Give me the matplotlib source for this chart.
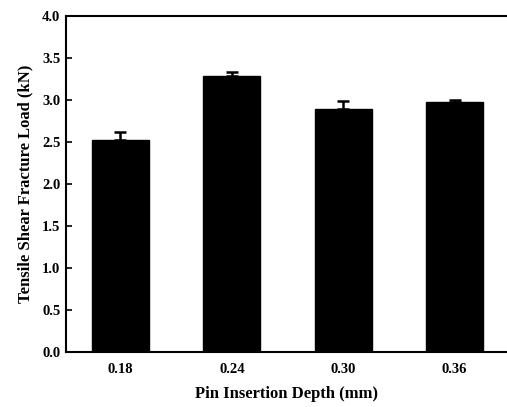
import matplotlib
matplotlib.use("Agg")
import matplotlib.pyplot as plt
import numpy as np

categories = ["0.18", "0.24", "0.30", "0.36"]
loads = [2.52, 3.29, 2.89, 2.97]
errors = [0.10, 0.04, 0.10, 0.03]
yticks = [0.0, 0.5, 1.0, 1.5, 2.0, 2.5, 3.0, 3.5, 4.0]

plt.rcParams['font.family'] = ['Liberation Serif', 'DejaVu Serif']
plt.rcParams['font.weight'] = 'bold'

fig = plt.figure(figsize=(5.07, 4.07), dpi=100)
ax = fig.add_axes([0.130, 0.135, 0.87, 0.826])

x = np.arange(len(categories))
ax.bar(x, loads, width=0.51, color='black', edgecolor='black',
       yerr=[np.zeros(len(errors)), errors], capsize=4,
       error_kw=dict(elinewidth=1.8, capthick=1.8, ecolor='black'))

ax.set_xlim(-0.49, 3.47)
ax.set_ylim(0, 4.0)
ax.set_xticks(x)
ax.set_xticklabels(categories)
ax.set_yticks(yticks)
ax.set_yticklabels([f"{v:.1f}" for v in yticks])
ax.tick_params(axis='x', length=0, pad=8, labelsize=10.5)
ax.tick_params(axis='y', direction='in', length=4, width=1.2, labelsize=10.5, pad=4)
for lab in ax.get_xticklabels() + ax.get_yticklabels():
    lab.set_fontweight('bold')

ax.spines['right'].set_visible(False)
for s in ['left', 'top', 'bottom']:
    ax.spines[s].set_linewidth(1.5)

ax.set_xlabel("Pin Insertion Depth (mm)", fontsize=12, fontweight='bold', labelpad=7)
ax.set_ylabel("Tensile Shear Fracture Load (kN)", fontsize=12, fontweight='bold', labelpad=6)

fig.savefig("out.png", dpi=100)
